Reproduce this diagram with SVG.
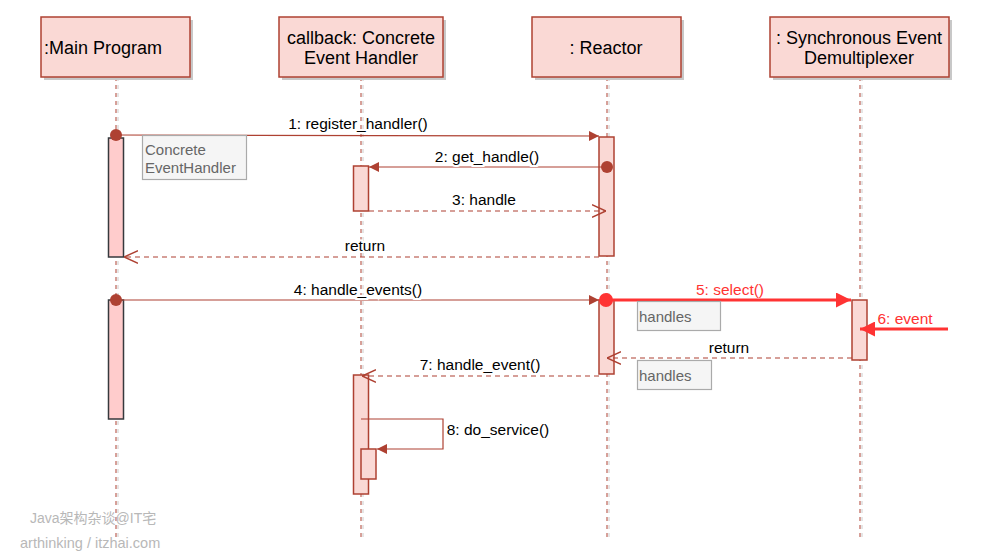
<svg xmlns="http://www.w3.org/2000/svg" width="1000" height="554" viewBox="0 0 1000 554">
<defs>
<style>
text{font-family:"Liberation Sans",Arial,sans-serif;}
.box{fill:#fad9d5;stroke:#ae4132;stroke-width:1.5;}
.shadow{fill:#c8c8c8;}
.life{stroke:#ae4132;stroke-width:1;stroke-dasharray:4 4;fill:none;}
.lifes{stroke:#cccccc;stroke-width:1;stroke-dasharray:4 4;fill:none;}
.act{fill:#fad9d5;stroke:#ae4132;stroke-width:1.5;}
.actm{fill:#ffcccc;stroke:#36393d;stroke-width:1.5;}
.title{font-size:18px;fill:#000;text-anchor:middle;}
.msg{stroke:#ae4132;stroke-width:1.2;fill:none;}
.ret{stroke:#ae4132;stroke-width:1.2;fill:none;stroke-dasharray:5 4;}
.hot{stroke:#ff3333;stroke-width:3;fill:none;}
.lbl{font-size:15.5px;fill:#000;text-anchor:middle;stroke:#ffffff;stroke-width:4;paint-order:stroke;}
.lblr{font-size:15.5px;fill:#ff3333;text-anchor:middle;}
.note{fill:#f5f5f5;stroke:#aaaaaa;stroke-width:1.2;}
.notet{font-size:15px;fill:#666666;}
.wm{font-size:14px;fill:#b8b8b8;font-family:"Liberation Sans","Noto Sans CJK SC",sans-serif;}
</style>
<marker id="fill" viewBox="0 0 10 10" refX="10" refY="5" markerWidth="10" markerHeight="10" markerUnits="userSpaceOnUse" orient="auto">
<path d="M0,0 L10,5 L0,10 Z" fill="#ae4132"/>
</marker>
<marker id="fillr" viewBox="0 0 10 10" refX="10" refY="5" markerWidth="15" markerHeight="15" markerUnits="userSpaceOnUse" orient="auto">
<path d="M0,0 L10,5 L0,10 Z" fill="#ff3333"/>
</marker>
<marker id="open" viewBox="0 0 10 10" refX="10" refY="5" markerWidth="14" markerHeight="14" markerUnits="userSpaceOnUse" orient="auto">
<path d="M0,0.5 L10,5 L0,9.5" fill="none" stroke="#ae4132" stroke-width="1"/>
</marker>
</defs>

<g id="lifelines">
<line class="lifes" x1="118" y1="77" x2="118" y2="540"/>
<line class="life" x1="116" y1="77" x2="116" y2="540"/>
<line class="lifes" x1="363" y1="77" x2="363" y2="540"/>
<line class="life" x1="361" y1="77" x2="361" y2="540"/>
<line class="lifes" x1="609" y1="77" x2="609" y2="540"/>
<line class="life" x1="607" y1="77" x2="607" y2="540"/>
<line class="lifes" x1="862" y1="77" x2="862" y2="540"/>
<line class="life" x1="860" y1="77" x2="860" y2="540"/>
</g>

<g id="main-program">
<rect class="shadow" x="44" y="20" width="149" height="60"/>
<rect class="box" x="41" y="17" width="149" height="60"/>
<text class="title" x="44" y="54" style="text-anchor:start">:Main Program</text>
</g>
<g id="callback-handler">
<rect class="shadow" x="282" y="20" width="164" height="60"/>
<rect class="box" x="279" y="17" width="164" height="60"/>
<text class="title" x="361" y="44">callback: Concrete</text>
<text class="title" x="361" y="64">Event Handler</text>
</g>
<g id="reactor">
<rect class="shadow" x="535" y="20" width="149" height="60"/>
<rect class="box" x="532" y="17" width="149" height="60"/>
<text class="title" x="606" y="54">: Reactor</text>
</g>
<g id="demultiplexer">
<rect class="shadow" x="773" y="20" width="179" height="60"/>
<rect class="box" x="770" y="17" width="179" height="60"/>
<text class="title" x="859" y="44">: Synchronous Event</text>
<text class="title" x="859" y="64">Demultiplexer</text>
</g>

<g id="activations">
<rect class="actm" x="108.5" y="138" width="15" height="119"/>
<rect class="actm" x="108.5" y="300" width="15" height="119"/>
<rect class="act" x="353.5" y="166" width="15" height="45"/>
<rect class="act" x="353.5" y="375" width="15" height="119"/>
<rect class="act" x="361" y="449" width="15" height="30"/>
<rect class="act" x="599" y="137" width="15" height="119"/>
<rect class="act" x="599" y="300" width="15" height="74"/>
<rect class="act" x="852" y="300" width="15" height="60"/>
</g>

<g id="connectors">
<line class="msg" x1="116" y1="135" x2="599" y2="136" marker-end="url(#fill)"/>
<circle cx="116" cy="135" r="6" fill="#ae4132"/>
<text class="lbl" x="358" y="129">1: register_handler()</text>

<line class="msg" x1="607" y1="167" x2="369" y2="167" marker-end="url(#fill)"/>
<circle cx="607" cy="167" r="6" fill="#ae4132"/>
<text class="lbl" x="487" y="162">2: get_handle()</text>

<line class="ret" x1="369" y1="211" x2="606" y2="211" marker-end="url(#open)"/>
<text class="lbl" x="484" y="205">3: handle</text>

<line class="ret" x1="599" y1="257" x2="124" y2="257" marker-end="url(#open)"/>
<text class="lbl" x="365" y="251">return</text>

<line class="msg" x1="116" y1="300" x2="599" y2="300" marker-end="url(#fill)"/>
<circle cx="116" cy="300" r="6" fill="#ae4132"/>
<text class="lbl" x="358" y="295">4: handle_events()</text>

<line class="hot" x1="606" y1="300" x2="851" y2="300" marker-end="url(#fillr)"/>
<circle cx="606" cy="300" r="7" fill="#ff3333"/>
<text class="lblr" x="730" y="295">5: select()</text>

<line class="hot" x1="948" y1="329" x2="860" y2="329" marker-end="url(#fillr)"/>
<text class="lblr" x="905" y="324">6: event</text>

<line class="ret" x1="852" y1="358" x2="607" y2="358" marker-end="url(#open)"/>
<text class="lbl" x="729" y="353">return</text>

<line class="ret" x1="599" y1="376" x2="362" y2="376" marker-end="url(#open)"/>
<text class="lbl" x="480" y="370">7: handle_event()</text>

<path class="msg" d="M361,419 L443,419 L443,449 L377,449" marker-end="url(#fill)"/>
<text class="lbl" x="498" y="435">8: do_service()</text>
</g>

<g id="notes">
<rect class="note" x="142.5" y="135.5" width="104" height="44"/>
<text class="notet" x="145" y="155">Concrete</text>
<text class="notet" x="145" y="173">EventHandler</text>
<rect class="note" x="637.5" y="301.5" width="83" height="29"/>
<text class="notet" x="639" y="322">handles</text>
<rect class="note" x="637.5" y="360.5" width="74" height="29"/>
<text class="notet" x="639" y="381">handles</text>
</g>

<g id="watermark">
<text class="wm" x="30" y="523">Java架构杂谈@IT宅</text>
<text class="wm" x="20" y="548" style="font-size:14.5px">arthinking / itzhai.com</text>
</g>
</svg>
